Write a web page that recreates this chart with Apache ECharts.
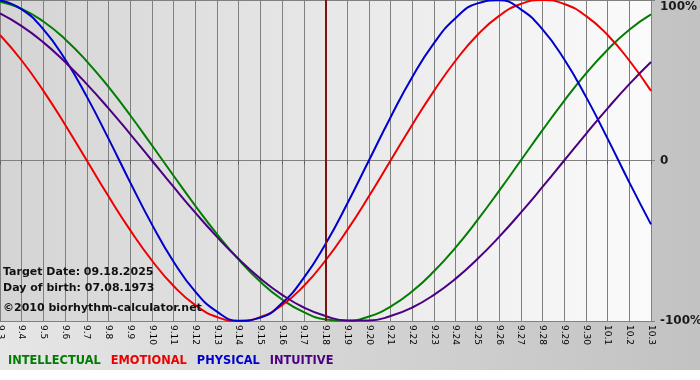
<!DOCTYPE html>
<html>
<head>
<meta charset="utf-8">
<script src="https://cdn.jsdelivr.net/npm/echarts@6/dist/echarts.min.js"></script>
<style>
html,body{margin:0;padding:0;background:#fff;}
#chart{width:700px;height:380px;
background:linear-gradient(to bottom, rgba(255,255,255,0) 370px, #ffffff 370px), linear-gradient(to right, #e6e6e6, #c2c2c2);}
</style>
</head>
<body>
<div id="chart"></div>
<script>
var categories = ['9.3','9.4','9.5','9.6','9.7','9.8','9.9','9.10','9.11','9.12','9.13','9.14','9.15','9.16','9.17','9.18','9.19','9.20','9.21','9.22','9.23','9.24','9.25','9.26','9.27','9.28','9.29','9.30','10.1','10.2','10.3'];
var intellectual = [99.0,94.5,86.6,75.6,61.8,45.8,28.2,9.5,-9.5,-28.2,-45.8,-61.8,-75.6,-86.6,-94.5,-99.0,-99.9,-97.2,-91.0,-81.5,-69.0,-54.1,-37.2,-18.9,0,18.9,37.2,54.1,69.0,81.5,91.0];
var emotional = [78.2,62.3,43.4,22.3,0,-22.3,-43.4,-62.3,-78.2,-90.1,-97.5,-100,-97.5,-90.1,-78.2,-62.3,-43.4,-22.3,0,22.3,43.4,62.3,78.2,90.1,97.5,100,97.5,90.1,78.2,62.3,43.4];
var physical = [99.8,94.2,81.7,63.1,39.8,13.6,-13.6,-39.8,-63.1,-81.7,-94.2,-99.8,-97.9,-88.8,-73.1,-52.0,-27.0,0,27.0,52.0,73.1,88.8,97.9,99.8,94.2,81.7,63.1,39.8,13.6,-13.6,-39.8];
var intuitive = [91.6,83.7,73.6,61.4,47.6,32.5,16.5,0,-16.5,-32.5,-47.6,-61.4,-73.6,-83.7,-91.6,-96.9,-99.7,-99.7,-96.9,-91.6,-83.7,-73.6,-61.4,-47.6,-32.5,-16.5,0,16.5,32.5,47.6,61.4];
var yTicks = {'100':'100%','0':'0','-100':'-100%'};
var targetDay = '9.18';
var infoLines = ['Target Date: 09.18.2025','Day of birth: 07.08.1973','\u00a92010 biorhythm-calculator.net'];

var chart = echarts.init(document.getElementById('chart'), null, {renderer:'canvas'});
var FONT = '"DejaVu Sans", Verdana, sans-serif';
function mk(name, data, color) {
  return {name:name, type:'line', data:data, smooth:true, symbol:'none',
    lineStyle:{color:color, width:2}, itemStyle:{color:color}};
}
var series = [
  mk('INTELLECTUAL', intellectual, '#007d00'),
  mk('EMOTIONAL', emotional, '#ee0000'),
  mk('PHYSICAL', physical, '#0000cc'),
  mk('INTUITIVE', intuitive, '#4b0082')
];
series[0].markLine = {silent:true, symbol:'none', label:{show:false},
  lineStyle:{color:'#7a1414', width:2, type:'solid'}, data:[{xAxis:targetDay}]};

chart.setOption({
  animation:false,
  backgroundColor:'transparent',
  grid:{left:0, right:49, top:0, bottom:59, show:true, borderWidth:0,
    containLabel:false, outerBoundsMode:'none',
    backgroundColor:{type:'linear', x:0, y:0, x2:1, y2:0,
      colorStops:[{offset:0, color:'#d4d4d4'},{offset:1, color:'#fbfbfb'}]}},
  legend:{left:3, top:356, padding:0, itemWidth:0, itemHeight:0, itemGap:5, icon:'rect',
    selectedMode:false,
    textStyle:{fontFamily:FONT, fontSize:11.4, fontWeight:'bold'},
    data:[
      {name:'INTELLECTUAL', textStyle:{color:'#007d00'}},
      {name:'EMOTIONAL', textStyle:{color:'#ee0000'}},
      {name:'PHYSICAL', textStyle:{color:'#0000cc'}},
      {name:'INTUITIVE', textStyle:{color:'#4b0082'}}
    ]},
  xAxis:{type:'category', data:categories, boundaryGap:false,
    axisLine:{show:true, lineStyle:{color:'#808080', width:1}},
    axisTick:{show:true, interval:0, length:4, lineStyle:{color:'#606060'}},
    splitLine:{show:true, interval:0, lineStyle:{color:'#808080', width:1}},
    axisLabel:{interval:0, rotate:-90, margin:4, color:'#000', fontSize:9, fontFamily:FONT}},
  yAxis:{type:'value', position:'right', min:-100, max:100, interval:100,
    axisLine:{show:false},
    axisTick:{show:true, length:4, lineStyle:{color:'#808080'}},
    splitLine:{show:true, lineStyle:{color:'#808080', width:1}},
    axisLabel:{margin:9, color:'#1a1a1a', fontSize:12, fontWeight:'bold', fontFamily:FONT,
      formatter:function(v){ var s = yTicks[String(v)]; return v===100 ? '{t|'+s+'}' : s; },
      rich:{t:{padding:[14,0,0,0], fontSize:12, fontWeight:'bold', fontFamily:FONT, color:'#1a1a1a'}}}},
  graphic:infoLines.map(function(t, i){
    return {type:'text', left:3, top:[267,283,303][i], z:100,
      style:{text:t, fill:'#111', font:'bold 11px '+FONT}};
  }),
  series:series
});
</script>
</body>
</html>
